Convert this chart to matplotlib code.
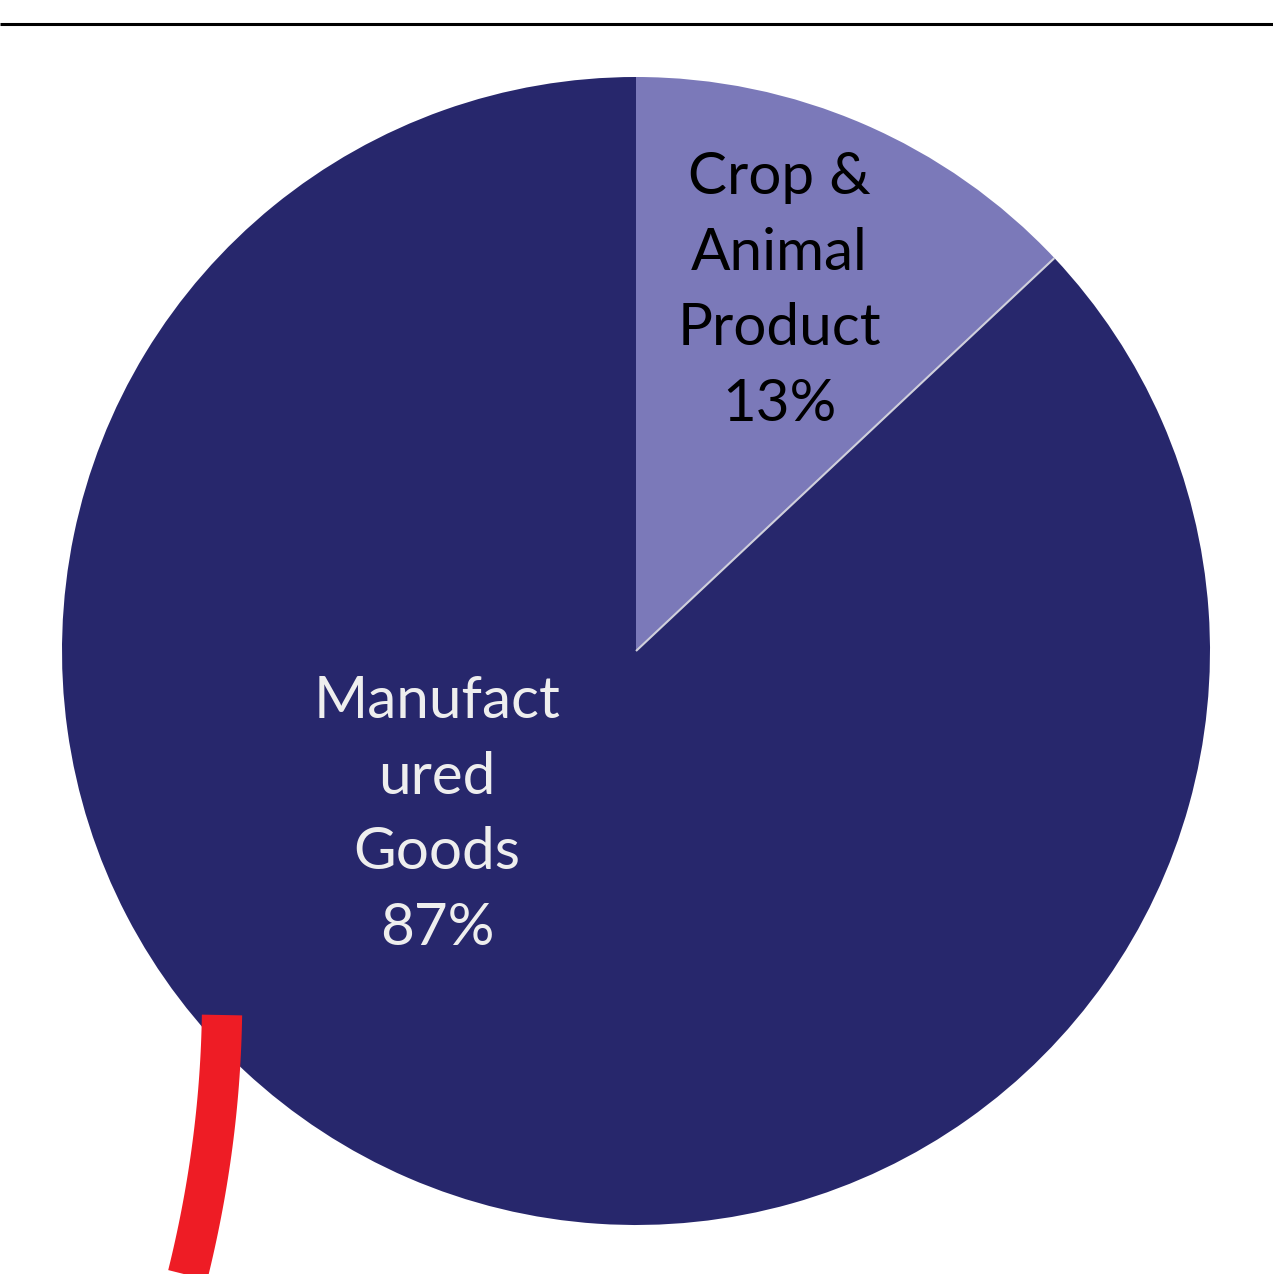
import matplotlib
matplotlib.use("Agg")
import matplotlib.pyplot as plt
import numpy as np

categories = ["Crop &\nAnimal\nProduct", "Manufact\nured\nGoods"]
values = [13, 87]
colors = ["#7b79b9", "#27276c"]
text_colors = ["#000000", "#eeeeee"]

W, H = 1273, 1274
fig = plt.figure(figsize=(W / 100, H / 100), dpi=100)
ax = fig.add_axes([0, 0, 1, 1])
ax.set_xlim(0, W)
ax.set_ylim(0, H)
ax.set_aspect("equal")
ax.axis("off")

cx, cy, R = 636, H - 651, 574
wedges, _ = ax.pie(values, colors=colors, startangle=90, counterclock=False,
                   center=(cx, cy), radius=R, frame=True,
                   wedgeprops=dict(edgecolor="none", linewidth=0))
ax.set_xlim(0, W)
ax.set_ylim(0, H)
ax.axis("off")

# light separator along slice boundary
b_ang = np.deg2rad(90 - 360 * values[0] / sum(values))
ax.plot([cx, cx + R * np.cos(b_ang)], [cy, cy + R * np.sin(b_ang)],
        color="#d0d0dc", lw=1.5, solid_capstyle="butt")

# labels
label_pos = [(779, H - 291), (437, H - 815)]
for cat, v, (lx, ly), tc in zip(categories, values, label_pos, text_colors):
    ax.text(lx, ly, f"{cat}\n{v}%", ha="center", va="center", color=tc,
            fontsize=42, family="Lato", linespacing=1.52)

# top rule
ax.plot([0, W], [H - 24, H - 24], color="black", lw=2.2, solid_capstyle="butt")

# red decorative stroke (extends past bottom edge, clipped by the axes)
t = np.linspace(0, 1.15, 40)
xs = 222 - 4 * t - 30 * t ** 2
ys = 1015 + 259 * t
ax.plot(xs, H - ys, color="#ee1c25", lw=29, solid_capstyle="butt")

fig.savefig("out.png", dpi=100)
